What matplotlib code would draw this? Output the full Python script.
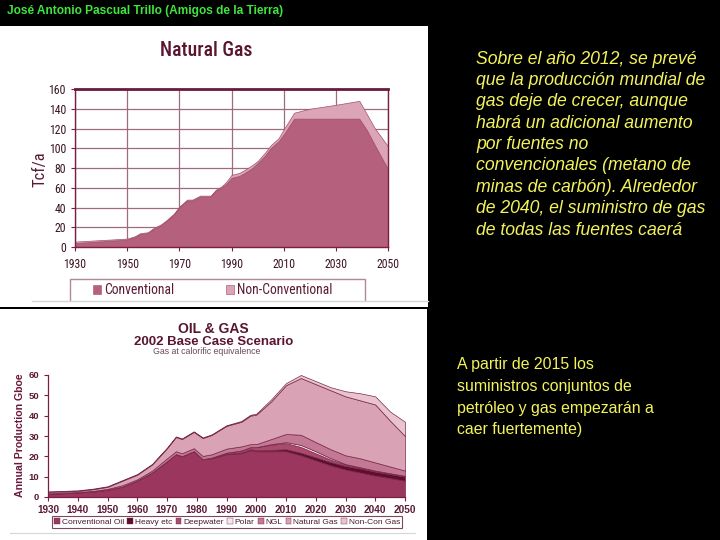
import matplotlib
matplotlib.use("Agg")
import matplotlib.pyplot as plt
from matplotlib.patches import Rectangle, Patch
from matplotlib.lines import Line2D
from matplotlib import font_manager

# ---------------- data ----------------
gas_years = [1930, 1950, 1953, 1955, 1958, 1960, 1963, 1965, 1968, 1970, 1973, 1975,
             1978, 1982, 1984, 1986, 1988, 1990, 1993, 1995, 1998, 2000, 2003, 2005,
             2008, 2010, 2014, 2020, 2030, 2039, 2042, 2045, 2050]
gas_conventional = [4, 7.5, 10, 13, 14, 18, 22, 26, 33, 40, 47, 47,
                    51, 51, 57, 60, 64, 70, 72, 75, 80, 85, 93, 100,
                    107, 114, 130, 130, 130, 130, 118, 103, 79]
gas_nonconventional = [1.5, 1, 1, 1, 1, 1, 1, 1, 1, 1, 1, 1,
                       1, 1, 1, 1, 2, 3, 3, 3, 3, 2, 3, 3,
                       3, 5, 6, 10, 14, 18, 16, 17, 23]
gas_xticks = [1930, 1950, 1970, 1990, 2010, 2030, 2050]
gas_yticks = [0, 20, 40, 60, 80, 100, 120, 140, 160]
gas_labels = ["Conventional", "Non-Conventional"]

oil_years = [1930, 1935, 1940, 1945, 1950, 1955, 1960, 1965, 1970, 1973, 1975, 1979,
             1982, 1985, 1990, 1995, 1998, 2000, 2005, 2010, 2015, 2020, 2025, 2030,
             2035, 2040, 2045, 2050]
conventional_oil = [1.5, 1.8, 2.2, 2.6, 3.5, 5, 8, 12, 17.5, 21, 20, 22.5,
                    18.5, 19, 21, 21.5, 23, 22.5, 22.5, 22.5, 20.5, 18, 15.5, 13.5,
                    12, 10.5, 9.3, 8]
heavy_etc = [0.1, 0.1, 0.1, 0.1, 0.1, 0.1, 0.1, 0.1, 0.1, 0.1, 0.1, 0.1,
             0.1, 0.2, 0.3, 0.4, 0.5, 0.5, 0.7, 1.0, 1.3, 1.5, 1.7, 1.8,
             2.0, 2.0, 2.0, 2.0]
deepwater = [0, 0, 0, 0, 0, 0, 0, 0, 0, 0, 0, 0,
             0, 0.2, 0.5, 1.0, 1.0, 1.5, 2.5, 3.0, 2.8, 2.0, 1.2, 0.6,
             0.4, 0.3, 0.3, 0.3]
polar = [0, 0, 0, 0, 0, 0, 0, 0, 0, 0, 0, 0,
         0, 0, 0, 0, 0, 0, 0.3, 0.5, 1.0, 1.0, 0.7, 0.3,
         0.2, 0.2, 0.1, 0.1]
ngl = [0.2, 0.2, 0.2, 0.3, 0.4, 0.7, 0.6, 0.9, 1.4, 1.4, 1.4, 1.4,
       1.6, 1.6, 2.0, 2.0, 1.5, 1.5, 2.5, 4.0, 5.0, 4.5, 4.4, 4.3,
       4.4, 4.0, 3.3, 2.6]
natural_gas = [0.7, 0.6, 0.5, 0.8, 1.0, 2.2, 2.3, 3.0, 5.0, 7.0, 7.0, 8.0,
               8.8, 9.5, 11.2, 12.1, 14.0, 14.5, 18.5, 24.0, 27.9, 28.5, 29.0, 29.0,
               28.5, 28.5, 22.5, 17.0]
noncon_gas = [0.3, 0.3, 0.3, 0.3, 0.3, 0.3, 0.3, 0.3, 0.3, 0.3, 0.3, 0.3,
              0.3, 0.3, 0.3, 0.4, 0.4, 0.5, 1.0, 1.0, 1.5, 1.5, 1.5, 2.5,
              3.5, 4.0, 4.5, 7.0]
oil_labels = ["Conventional Oil", "Heavy etc", "Deepwater", "Polar", "NGL",
              "Natural Gas", "Non-Con Gas"]
oil_xticks = [1930, 1940, 1950, 1960, 1970, 1980, 1990, 2000, 2010, 2020, 2030, 2040, 2050]
oil_yticks = [0, 10, 20, 30, 40, 50, 60]

header = "José Antonio Pascual Trillo (Amigos de la Tierra)"
text_top = ["Sobre el año 2012, se prevé",
            "que la producción mundial de",
            "gas deje de crecer, aunque",
            "habrá un adicional aumento",
            "por fuentes no",
            "convencionales (metano de",
            "minas de carbón). Alrededor",
            "de 2040, el suministro de gas",
            "de todas las fuentes caerá"]
text_bottom = ["A partir de 2015 los",
               "suministros conjuntos de",
               "petróleo y gas empezarán a",
               "caer fuertemente)"]

# ---------------- fonts ----------------
ARIAL = "Liberation Sans"
_ttf = font_manager.fontManager.ttflist
_names = {f.name for f in _ttf}
NARROW = None
for cand in ["Roboto Condensed", "Liberation Sans Narrow", "Arial Narrow",
             "Open Sans Condensed", "PT Sans Narrow", "Archivo Narrow",
             "Fira Sans Condensed", "IBM Plex Sans Condensed", "Asap Condensed"]:
    if cand in _names:
        NARROW = font_manager.FontProperties(family=cand)
        break
if NARROW is None:
    NARROW = font_manager.FontProperties(family="DejaVu Sans")


def nfp(size, weight="normal"):
    p = NARROW.copy()
    p.set_size(size)
    p.set_weight(weight)
    return p


W, H = 720, 540
fig = plt.figure(figsize=(W / 100, H / 100), dpi=100, facecolor="black")


def rect_axes(x0, y0, x1, y1):
    return fig.add_axes([x0 / W, 1 - y1 / H, (x1 - x0) / W, (y1 - y0) / H])


def ftext(x, y, s, **kw):
    return fig.text(x / W, 1 - y / H, s, **kw)


def frect(x0, y0, x1, y1, face, z, edge="none", lw=0.0):
    r = Rectangle((x0 / W, 1 - y1 / H), (x1 - x0) / W, (y1 - y0) / H,
                  transform=fig.transFigure, facecolor=face, edgecolor=edge,
                  linewidth=lw, zorder=z)
    fig.patches.append(r)


def fline(x0, x1, y, color, z, lw=1.0):
    fig.lines.append(Line2D([x0 / W, x1 / W], [1 - y / H, 1 - y / H],
                            transform=fig.transFigure, color=color, lw=lw, zorder=z))


# white panels
frect(0, 26, 428, 307, "white", -1)
frect(0, 309, 427, 540, "white", -1)

# header
ftext(7, 11, header, color="#3ee63e", fontsize=8.6, fontweight="bold",
      family=ARIAL, va="center", ha="left")

# ---------------- Natural gas chart ----------------
MAROON = "#7a1e46"
GAS_COLORS = ["#b5607c", "#dca5b7"]
ax1 = rect_axes(75, 89, 388, 247)
ax1.set_facecolor("white")
ax1.stackplot(gas_years, gas_conventional, gas_nonconventional,
              colors=GAS_COLORS, edgecolor="#a0506c", linewidth=0.5)
ax1.set_xlim(1930, 2050)
ax1.set_ylim(0, 160)
ax1.set_xticks(gas_xticks)
ax1.set_yticks(gas_yticks)
ax1.grid(True, color="#a06a82", lw=0.9)
ax1.set_axisbelow(True)
for s in ax1.spines.values():
    s.set_color(MAROON)
    s.set_linewidth(1.0)
ax1.spines["top"].set_linewidth(2.0)
ax1.spines["top"].set_color("#6a1a3c")
ax1.tick_params(colors=MAROON, length=3, width=0.8, labelcolor="#3a1426")
for lab in ax1.get_xticklabels() + ax1.get_yticklabels():
    lab.set_fontproperties(nfp(8.5))
ax1.tick_params(axis="x", pad=5)
ftext(40, 169, "Tcf/a", fontproperties=nfp(12), color="#5a1a35",
      rotation=90, ha="center", va="center")

ftext(206, 50, "Natural Gas", fontproperties=nfp(14.2, "medium"), color="#5a1530",
      ha="center", va="center")

# legend box (top edge and sides), entries placed individually
frect(70, 279, 365, 305, "white", 4, edge="#b08898", lw=1.0)
for xh, lab, col in zip([93, 226], gas_labels, GAS_COLORS):
    lg = fig.legend(handles=[Patch(facecolor=col, edgecolor="#b5607c", linewidth=0.5)],
                    labels=[lab], loc="center left",
                    bbox_to_anchor=(xh / W, 1 - 290.5 / H), prop=nfp(9.8),
                    frameon=False, borderpad=0, borderaxespad=0,
                    handlelength=0.6, handleheight=0.6, handletextpad=0.2)
    lg.set_zorder(6)
    for t in lg.get_texts():
        t.set_color("#5a1a35")
frect(60, 301.5, 390, 307, "white", 10)
fline(32, 428, 301, "#d6d6d6", 11, lw=1.0)

# ---------------- Oil & Gas chart ----------------
ax2 = rect_axes(48, 375, 405, 497)
ax2.set_facecolor("none")
oil_colors = ["#9b375f", "#5f0f2d", "#aa4b6e", "#f8e6ee", "#c37894", "#d9a2b5", "#e9c4d0"]
ax2.stackplot(oil_years, conventional_oil, heavy_etc, deepwater, polar, ngl,
              natural_gas, noncon_gas, colors=oil_colors,
              edgecolor="#7a2a4a", linewidth=0.5)
ax2.set_xlim(1930, 2050)
ax2.set_ylim(0, 60)
ax2.set_xticks(oil_xticks)
ax2.set_yticks(oil_yticks)
for side in ("top", "right"):
    ax2.spines[side].set_visible(False)
for side in ("left", "bottom"):
    ax2.spines[side].set_color(MAROON)
    ax2.spines[side].set_linewidth(0.9)
ax2.tick_params(colors=MAROON, length=3, width=0.8, labelcolor="#5a1a35",
                labelsize=7.2)
for lab in ax2.get_xticklabels() + ax2.get_yticklabels():
    lab.set_family(ARIAL)
    lab.set_fontweight("bold")
ax2.tick_params(axis="x", pad=3)
ax2.tick_params(axis="y", labelsize=6.8)
ftext(20, 435, "Annual Production Gboe", family=ARIAL, fontsize=7.6,
      fontweight="bold", color="#6a1a3a", rotation=90, ha="center", va="center")

ftext(213, 329, "OIL & GAS", family=ARIAL, fontweight="bold", fontsize=10,
      color="#5a1530", ha="center", va="center")
ftext(214, 342, "2002 Base Case Scenario", family=ARIAL, fontweight="bold",
      fontsize=9.5, color="#5a1530", ha="center", va="center")
ftext(207, 352, "Gas at calorific equivalence", family=ARIAL, fontsize=6.3,
      color="#6a4a5a", ha="center", va="center")

leg2 = fig.legend(handles=[Patch(facecolor=c, edgecolor="#7a2a4a", linewidth=0.3)
                           for c in oil_colors],
                  labels=oil_labels, ncol=7, loc="lower left",
                  bbox_to_anchor=(52 / W, 1 - 528 / H, 350 / W, 12 / H),
                  mode="expand", fontsize=6.0, frameon=True, fancybox=False,
                  edgecolor="#5a1a35", borderpad=0.25, handlelength=0.7,
                  handleheight=0.7, handletextpad=0.2, columnspacing=0.3,
                  borderaxespad=0)
for t in leg2.get_texts():
    t.set_family(ARIAL)
    t.set_color("#4a1a30")
leg2.get_frame().set_linewidth(0.8)
fline(10, 415, 533, "#d6d6d6", 11, lw=0.8)

# ---------------- right-hand texts ----------------
YELLOW = "#f3f35c"
for i, line in enumerate(text_top):
    ftext(476, 59 + i * 21.4, line, family=ARIAL, style="italic", fontsize=12.7,
          color=YELLOW, ha="left", va="center")
for i, line in enumerate(text_bottom):
    ftext(457, 365 + i * 21.5, line, family=ARIAL, fontsize=11.4,
          color=YELLOW, ha="left", va="center")

fig.savefig("out.png", dpi=100, facecolor="black")
